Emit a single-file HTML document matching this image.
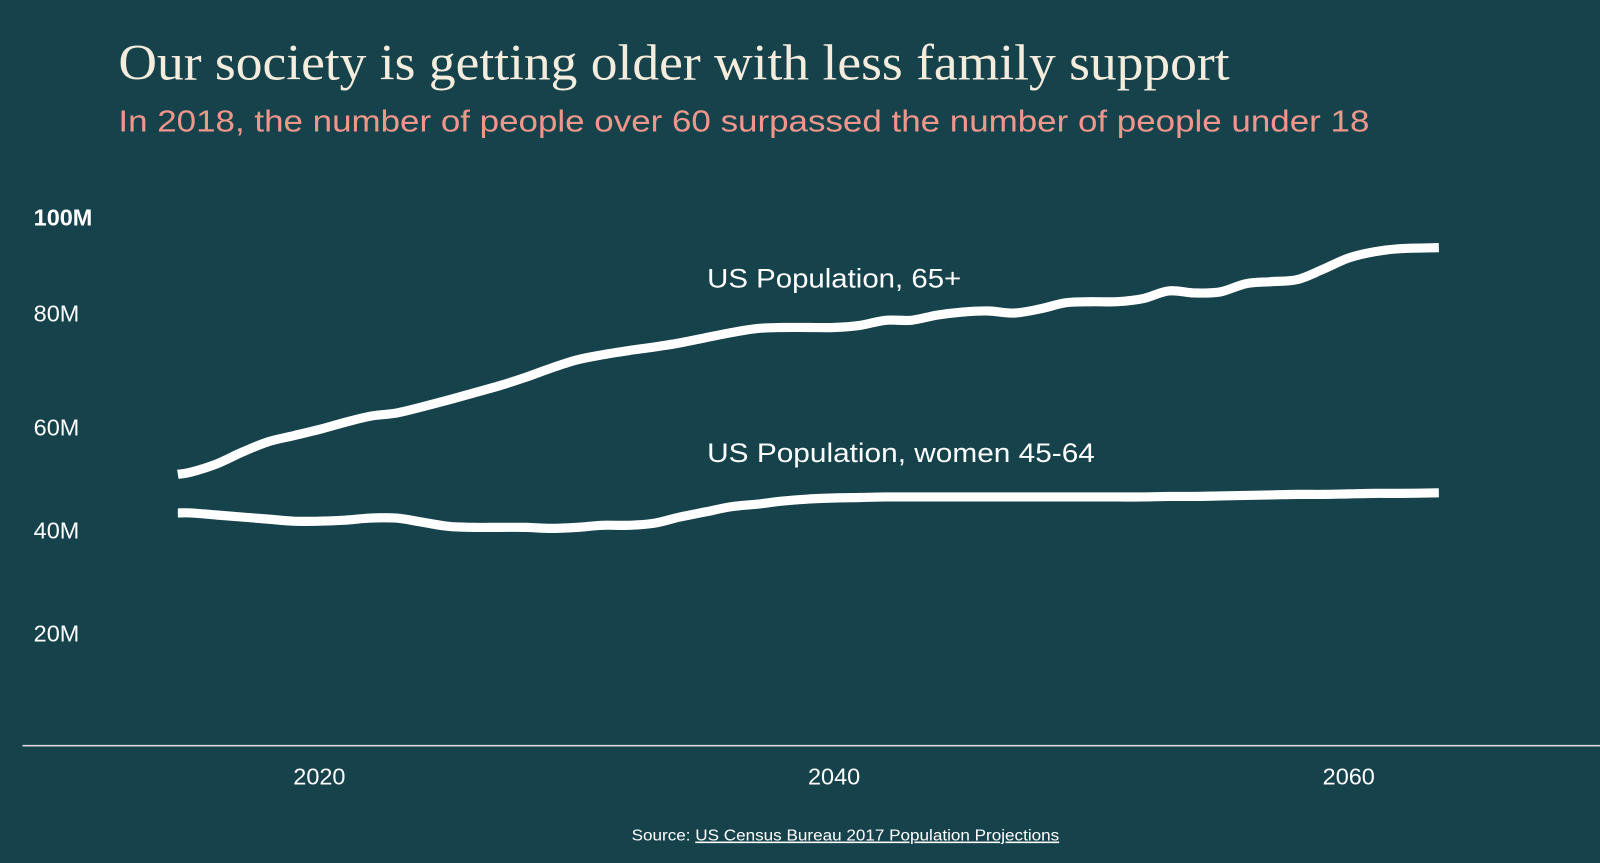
<!DOCTYPE html>
<html><head><meta charset="utf-8"><style>
html,body{margin:0;padding:0;background:#16424c;}
svg{display:block}
</style></head><body>
<svg width="1600" height="863" viewBox="0 0 1568 846" preserveAspectRatio="none" xmlns="http://www.w3.org/2000/svg">
<rect width="1568" height="846" fill="#16424c"/>
<text x="116" y="78" font-family="Liberation Serif, serif" font-size="50" fill="#f4ecdc" textLength="1089" lengthAdjust="spacingAndGlyphs">Our society is getting older with less family support</text>
<text x="116" y="129" font-family="Liberation Sans, sans-serif" font-size="30" fill="#f0968b" textLength="1226" lengthAdjust="spacingAndGlyphs">In 2018, the number of people over 60 surpassed the number of people under 18</text>
<g id="yaxis" font-family="Liberation Sans, sans-serif" font-size="23" fill="#ffffff"></g>
<g id="xaxis" font-family="Liberation Sans, sans-serif" font-size="23" fill="#ffffff" text-anchor="middle"></g>
<line x1="22" y1="731" x2="1568" y2="731" stroke="#d8d8d8" stroke-width="1.5"/>
<g id="series"></g>
<text x="693" y="282" font-family="Liberation Sans, sans-serif" font-size="26" fill="#ffffff" textLength="249" lengthAdjust="spacingAndGlyphs">US Population, 65+</text>
<text x="693" y="453" font-family="Liberation Sans, sans-serif" font-size="26" fill="#ffffff" textLength="380" lengthAdjust="spacingAndGlyphs">US Population, women 45-64</text>
<text x="619" y="824" font-family="Liberation Sans, sans-serif" font-size="15.5" fill="#ffffff" textLength="419" lengthAdjust="spacingAndGlyphs">Source: <tspan text-decoration="underline">US Census Bureau 2017 Population Projections</tspan></text>
</svg>
<script>
const years = [2014.5,2015,2016,2017,2018,2019,2020,2021,2022,2023,2024,2025,2026,2027,2028,2029,2030,2031,2032,2033,2034,2035,2036,2037,2038,2039,2040,2041,2042,2043,2044,2045,2046,2047,2048,2049,2050,2051,2052,2053,2054,2055,2056,2057,2058,2059,2060,2061,2062,2063.5];
const pop65 = [50.9,51.3,52.9,55.2,57.2,58.4,59.6,61.0,62.2,62.8,64.0,65.3,66.7,68.1,69.7,71.5,73.1,74.1,74.9,75.6,76.4,77.4,78.4,79.2,79.4,79.4,79.4,79.8,80.8,80.8,81.8,82.4,82.6,82.2,83.0,84.2,84.4,84.4,85.0,86.5,86.1,86.3,87.9,88.3,88.7,90.7,92.9,94.1,94.7,94.9];
const women4564 = [43.4,43.4,43.0,42.6,42.2,41.8,41.8,42.0,42.4,42.4,41.6,40.8,40.6,40.6,40.6,40.4,40.6,41.0,41.0,41.4,42.6,43.6,44.6,45.1,45.7,46.1,46.3,46.4,46.5,46.5,46.5,46.5,46.5,46.5,46.5,46.5,46.5,46.5,46.5,46.6,46.6,46.7,46.8,46.9,47.0,47.0,47.1,47.2,47.2,47.3];
const yTicks = [20,40,60,80,100];
const yTickLabels = ["20M","40M","60M","80M","100M"];
const xTicks = [2020,2040,2060];

const NS="http://www.w3.org/2000/svg";
function xs(y){return 313+(y-2020)*25.22;}
function ys(v){return 722-v*5.05;}

const ya=document.getElementById('yaxis');
yTicks.forEach((t,i)=>{
  const el=document.createElementNS(NS,'text');
  el.setAttribute('x',33);el.setAttribute('y',ys(t)+(t===100?4:t===80?-3:8));
  if(t===100)el.setAttribute('font-weight','bold');
  el.textContent=yTickLabels[i];
  
  
  ya.appendChild(el);
});
const xa=document.getElementById('xaxis');
xTicks.forEach(t=>{
  const el=document.createElementNS(NS,'text');
  el.setAttribute('x',xs(t));el.setAttribute('y',769);
  el.textContent=t;
  
  
  xa.appendChild(el);
});
function pathFor(vals){
  const p=years.map((y,i)=>[xs(y),ys(vals[i])]);
  let d='M'+p[0][0]+','+p[0][1];
  for(let i=0;i<p.length-1;i++){
    const p0=p[Math.max(0,i-1)],p1=p[i],p2=p[i+1],p3=p[Math.min(p.length-1,i+2)];
    const c1x=p1[0]+(p2[0]-p0[0])/6,c1y=p1[1]+(p2[1]-p0[1])/6;
    const c2x=p2[0]-(p3[0]-p1[0])/6,c2y=p2[1]-(p3[1]-p1[1])/6;
    d+=' C'+c1x+','+c1y+' '+c2x+','+c2y+' '+p2[0]+','+p2[1];
  }
  return d;
}
const sg=document.getElementById('series');
[[pop65,'line-65-plus'],[women4564,'line-women-45-64']].forEach(([vals,name])=>{
  const el=document.createElementNS(NS,'path');
  el.setAttribute('d',pathFor(vals));
  el.setAttribute('fill','none');el.setAttribute('stroke','#ffffff');
  el.setAttribute('stroke-width','9');el.setAttribute('stroke-linejoin','round');
  
  
  sg.appendChild(el);
});
</script>
</body></html>
